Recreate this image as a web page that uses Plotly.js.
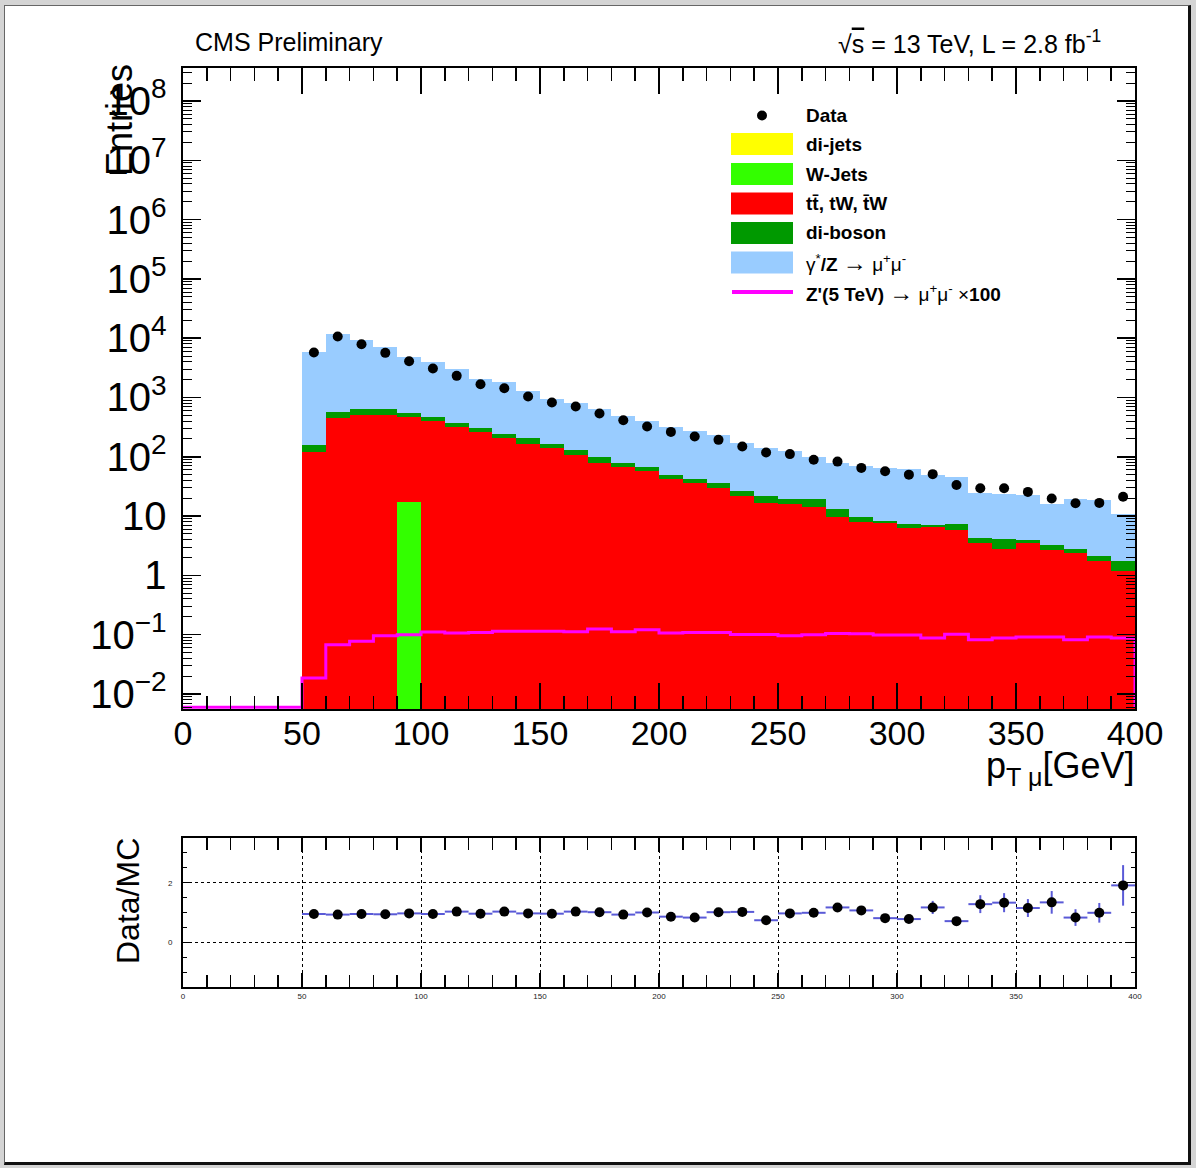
<!DOCTYPE html>
<html><head><meta charset="utf-8">
<script src="https://cdn.plot.ly/plotly-3.0.1.min.js"></script>
<style>
html,body{margin:0;padding:0;background:#d4d4d4;width:1196px;height:1168px;overflow:hidden;}
#frame{position:absolute;left:4px;top:5px;width:1183px;height:1156px;background:#fff;border-top:1px solid #666;border-left:1px solid #666;border-right:3px solid #111;border-bottom:3px solid #111;}
#chart{position:absolute;left:0;top:0;width:1196px;height:1168px;}
</style></head><body>
<div id="frame"></div><div id="chart"></div>
<script>
// ---- data (bin centers, 10 GeV bins) ----
const binCenters = [55,65,75,85,95,105,115,125,135,145,155,165,175,185,195,205,215,225,235,245,255,265,275,285,295,305,315,325,335,345,355,365,375,385,395];
const dataCounts = [5730,10670,7920,5660,4090,3080,2316,1676,1435,1038,822,704,537,414,324,263,220,193,149,118,111,89,83,65,57,50,51,33.4,29.5,29.4,25.6,19.8,16.5,16.7,21.2];
const dyCounts = [5721,11127,8748,6348,4349,3529,2622,1786,1552,1085,797,691,534,412,336,262,231,195,143,121,106,81,67,60,56,54.5,42.8,37.7,19.7,19.9,18.5,12.7,16.5,16.3,9.3];
const dibosonCounts = [38,125,136,136,73,68,54,47,32,42,25,20,21,9.5,9.7,7.2,7.1,6.7,4.7,5.0,3.4,4.8,3.4,1.8,0.7,1.2,0.7,1.4,0.77,1.33,0.51,0.53,0.43,0.40,0.53];
const ttbarCounts = [121,448,516,516,461,403,324,257,206,163,138,109,80,68.5,57.9,43,35.9,29.2,21.9,16.9,15.9,14.5,9.7,7.9,7.6,6.3,6.5,5.9,3.58,2.77,3.49,2.72,2.37,1.76,1.19];
const wjetsCounts = [0,0,0,0,17,0,0,0,0,0,0,0,0,0,0,0,0,0,0,0,0,0,0,0,0,0,0,0,0,0,0,0,0,0,0];
const dijetCounts = [0,0,0,0,0,0,0,0,0,0,0,0,0,0,0,0,0,0,0,0,0,0,0,0,0,0,0,0,0,0,0,0,0,0,0];
// Z'(5 TeV) x100, 40 bins from 0 to 400
const zprimeCounts = [0,0,0,0,0,0.0186,0.0678,0.0772,0.0962,0.100,0.111,0.107,0.109,0.114,0.114,0.114,0.112,0.125,0.112,0.121,0.107,0.109,0.109,0.101,0.101,0.096,0.100,0.105,0.104,0.099,0.099,0.088,0.1015,0.0824,0.088,0.0914,0.0914,0.0824,0.0914,0.088];
const ratioValues = [0.95,0.93,0.95,0.94,0.97,0.95,1.03,0.96,1.03,0.97,0.96,1.03,1.01,0.93,1.00,0.86,0.83,1.01,1.02,0.74,0.97,0.99,1.17,1.07,0.81,0.78,1.17,0.71,1.28,1.33,1.15,1.34,0.83,0.99,1.91];
const ratioErrors = [0.02,0.01,0.015,0.02,0.02,0.02,0.03,0.03,0.03,0.04,0.04,0.05,0.05,0.06,0.07,0.07,0.08,0.09,0.10,0.09,0.10,0.12,0.14,0.14,0.12,0.13,0.22,0.15,0.30,0.32,0.30,0.38,0.28,0.33,0.68];
const ARROW = '<span style="font-size:24px">→</span>';
const legendLabels = ['<b>Data</b>','<b>di-jets</b>','<b>W-Jets</b>','<b>tt\u0304, tW, t\u0304W</b>','<b>di-boson</b>','γ<sup>*</sup><b>/Z</b> ' + ARROW + ' μ<sup>+</sup>μ<sup>-</sup>','<b>Z\'(5 TeV)</b> ' + ARROW + ' μ<sup>+</sup>μ<sup>-</sup> ×<b>100</b>'];
const colors = {dijet:'#ffff00', wjets:'#33ff00', ttbar:'#ff0000', diboson:'#009900', dy:'#99ccff', zprime:'#ff00ff'};

// ---- helpers ----
const FONT = 'Liberation Sans, Arial, Helvetica, sans-serif';
const binWidth = 10, zpLow = 0, yFloor = 0.006;
const cum = arrs => arrs[0].map((_, i) => arrs.reduce((s, a) => s + a[i], 0));
const nz = a => a.map(v => v > 0 ? v : null);
const PX = x => (x - 183) / 952;
const PY = y => (987 - y) / 919;

const stDij = dijetCounts;
const stW = cum([dijetCounts, wjetsCounts]);
const stTt = cum([dijetCounts, wjetsCounts, ttbarCounts]);
const stDib = cum([dijetCounts, wjetsCounts, ttbarCounts, dibosonCounts]);
const stDy = cum([dijetCounts, wjetsCounts, ttbarCounts, dibosonCounts, dyCounts]);

const bar = (y, color) => ({type:'bar', x:binCenters, y:nz(y), width:binWidth, marker:{color:color, line:{width:0}}, xaxis:'x', yaxis:'y', showlegend:false, hoverinfo:'skip'});

const zpX = zprimeCounts.map((_, i) => zpLow + i * binWidth).concat([zpLow + zprimeCounts.length * binWidth]);
const zpY = zprimeCounts.map(v => v > 0 ? v : yFloor).concat([yFloor]);

const traces = [
  bar(stDy, colors.dy),
  bar(stDib, colors.diboson),
  bar(stTt, colors.ttbar),
  bar(stW, colors.wjets),
  bar(stDij, colors.dijet),
  {type:'scatter', mode:'lines', x:zpX, y:zpY, line:{shape:'hv', color:colors.zprime, width:3}, xaxis:'x', yaxis:'y', showlegend:false, cliponaxis:false},
  {type:'scatter', mode:'markers', x:binCenters, y:dataCounts, marker:{color:'black', size:10}, xaxis:'x', yaxis:'y', showlegend:false},
  {type:'scatter', mode:'markers', x:binCenters, y:ratioValues, marker:{color:'black', size:10},
   error_x:{type:'constant', value:binWidth/2, width:0, thickness:2, color:'rgb(90,90,215)'},
   error_y:{type:'data', array:ratioErrors, width:0, thickness:2, color:'rgb(90,90,215)'},
   xaxis:'x2', yaxis:'y2', showlegend:false}
];

const axCommon = {showline:true, linecolor:'black', linewidth:2, mirror:'ticks', ticks:'inside', tickcolor:'black', zeroline:false};

// ---- legend (drawn like the ROOT TLegend) ----
const legRowY = [115.5, 144, 174, 203.5, 233, 262.5, 292];
const boxColors = [null, colors.dijet, colors.wjets, colors.ttbar, colors.diboson, colors.dy, null];
const shapes = [];
const annotations = [];
legendLabels.forEach((lab, i) => {
  const yc = legRowY[i];
  if (i === 0) {
    shapes.push({type:'circle', xref:'paper', yref:'paper', x0:PX(757), x1:PX(767), y0:PY(yc+5), y1:PY(yc-5), fillcolor:'black', line:{width:0}});
  } else if (boxColors[i]) {
    shapes.push({type:'rect', xref:'paper', yref:'paper', x0:PX(731), x1:PX(793), y0:PY(yc+11), y1:PY(yc-11), fillcolor:boxColors[i], line:{width:0}});
  } else {
    shapes.push({type:'line', xref:'paper', yref:'paper', x0:PX(732), x1:PX(793), y0:PY(yc), y1:PY(yc), line:{color:colors.zprime, width:4}});
  }
  annotations.push({xref:'paper', yref:'paper', x:PX(804), y:PY(yc), xanchor:'left', yanchor:'middle', text:lab, showarrow:false, font:{family:FONT, size:19, color:'black'}});
});

annotations.push(
  {xref:'paper', yref:'paper', x:PX(193), y:PY(42), xanchor:'left', yanchor:'middle', text:'CMS Preliminary', showarrow:false, font:{family:FONT, size:25, color:'black'}},
  {xref:'paper', yref:'paper', x:PX(1103), y:PY(42), xanchor:'right', yanchor:'middle', text:'√<span style="text-decoration:overline">s</span> = 13 TeV, L = 2.8 fb<sup>-1</sup>', showarrow:false, font:{family:FONT, size:25, color:'black'}},
  {xref:'paper', yref:'paper', x:PX(119), y:PY(120), xanchor:'center', yanchor:'middle', textangle:-90, text:'Entries', showarrow:false, font:{family:FONT, size:36, color:'black'}},
  {xref:'paper', yref:'paper', x:PX(128), y:PY(901), xanchor:'center', yanchor:'middle', textangle:-90, text:'Data/MC', showarrow:false, font:{family:FONT, size:32, color:'black'}},
  {xref:'paper', yref:'paper', x:PX(1137), y:PY(743), xanchor:'right', yanchor:'top', text:'p<sub>T μ</sub>[GeV]', showarrow:false, font:{family:FONT, size:36, color:'black'}}
);

const layout = {
  width:1196, height:1168,
  margin:{l:183, r:61, t:68, b:181, pad:0},
  paper_bgcolor:'rgba(0,0,0,0)', plot_bgcolor:'rgba(0,0,0,0)',
  barmode:'overlay', bargap:0,
  font:{family:FONT, color:'black'},
  showlegend:false,
  xaxis:Object.assign({}, axCommon, {domain:[0,1], anchor:'y', range:[0,400], tick0:0, dtick:50, ticklen:26, tickwidth:1.5,
    minor:{dtick:10, ticklen:13, ticks:'inside', tickcolor:'black', tickwidth:1.5},
    showgrid:false, tickfont:{family:FONT, size:34, color:'black'}, ticklabelstandoff:-7}),
  yaxis:Object.assign({}, axCommon, {domain:[PY(709),1], anchor:'x', type:'log', range:[-2.253, 8.556], dtick:1, exponentformat:'power',
    ticklen:18, tickwidth:1.5, minor:{dtick:'D1', ticklen:9, ticks:'inside', tickcolor:'black', tickwidth:1},
    showgrid:false, tickfont:{family:FONT, size:32, color:'black'}, ticklabelstandoff:8}),
  xaxis2:Object.assign({}, axCommon, {domain:[0,1], anchor:'y2', range:[0,400], tick0:0, dtick:50, ticklen:14, tickwidth:1.5,
    minor:{dtick:10, ticklen:12, ticks:'inside', tickcolor:'black', tickwidth:1.5},
    showgrid:true, gridcolor:'black', griddash:'dot', gridwidth:1, tickfont:{family:FONT, size:8, color:'#222'}, ticklabelstandoff:0}),
  yaxis2:Object.assign({}, axCommon, {domain:[0,PY(838)], anchor:'x2', range:[-1.5,3.5], tick0:0, dtick:2, ticklen:8, tickwidth:1,
    minor:{dtick:0.5, ticklen:4, ticks:'inside', tickcolor:'black', tickwidth:1},
    showgrid:true, gridcolor:'black', griddash:'dot', gridwidth:1, tickfont:{family:FONT, size:8, color:'#222'}, ticklabelstandoff:7}),
  shapes:shapes,
  annotations:annotations
};

Plotly.newPlot('chart', traces, layout, {displayModeBar:false, staticPlot:true});
</script>
</body></html>
